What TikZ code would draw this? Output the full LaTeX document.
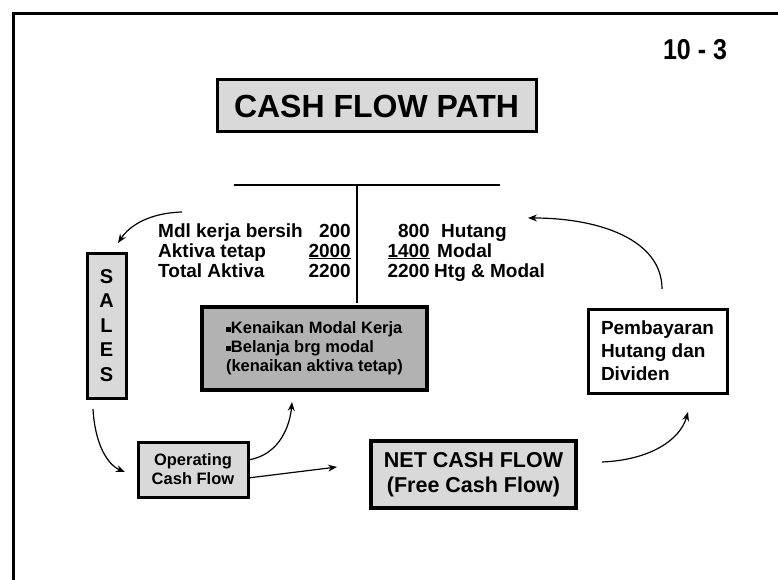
\documentclass[tikz,border=0pt]{standalone}
\usepackage{fontspec}
\setmainfont{Liberation Sans}
\usetikzlibrary{arrows.meta}

\tikzset{
  kotak/.style={draw, line width=3pt, fill=gray!30, inner sep=0pt, font=\bfseries},
  teks/.style={inner sep=0pt, font=\fontsize{19}{22}\selectfont\bfseries},
  panah/.style={->, >={Stealth[length=9pt,width=7pt]}, line width=1.2pt},
}

\begin{document}
\begin{tikzpicture}[x=1pt,y=-1pt]
    \useasboundingbox (0,0) rectangle (778,580);
    % Bingkai
    \draw[line width=3pt] (778,14) -- (13,14) -- (13,580);
    \node[inner sep=0pt, yscale=1.15, font=\fontsize{25}{28}\selectfont\bfseries] (hal) at (695,50) {10 - 3};
    % Judul
    \node[kotak, minimum width=319pt, minimum height=52pt,
          font=\fontsize{32}{36}\selectfont\bfseries] (judul) at (376.5,106) {CASH FLOW PATH};
    % Neraca (T)
    \coordinate (tki) at (234,185);
    \coordinate (tka) at (500,185);
    \coordinate (tat) at (357,185);
    \coordinate (tba) at (357,303);
    \draw[line width=1.2pt] (tki) -- (tka);
    \draw[line width=1.2pt] (tat) -- (tba);
    \node[teks, anchor=base west] (mdl) at (158,237) {Mdl kerja bersih};
    \node[teks, anchor=base west] (akt) at (158,257) {Aktiva tetap};
    \node[teks, anchor=base west] (tot) at (158,277) {Total Aktiva};
    \node[teks, anchor=base east] (n1) at (351,237) {200};
    \node[teks, anchor=base east] (n2) at (351,257) {\underline{2000}};
    \node[teks, anchor=base east] (n3) at (351,277) {2200};
    \node[teks, anchor=base east] (m1) at (430,237) {800};
    \node[teks, anchor=base east] (m2) at (430,257) {\underline{1400}};
    \node[teks, anchor=base east] (m3) at (430,277) {2200};
    \node[teks, anchor=base west] (hut) at (441,237) {Hutang};
    \node[teks, anchor=base west] (mod) at (437,257) {Modal};
    \node[teks, anchor=base west] (htg) at (434,277) {Htg \& Modal};
    % Kotak-kotak
    \node[kotak, minimum width=39pt, minimum height=145pt, align=center,
          font=\fontsize{20}{24.5}\selectfont\bfseries] (sales) at (106.5,325.5) {S\\A\\L\\E\\S};
    \node[kotak, line width=4pt, fill=gray!60, minimum width=225pt, minimum height=83pt,
          align=left, font=\fontsize{16.5}{19}\selectfont\bfseries] (naik) at (314.5,348.5)
          {\rule[0.25ex]{0.3em}{0.3em}Kenaikan Modal Kerja\\
           \rule[0.25ex]{0.3em}{0.3em}Belanja brg modal\\
           (kenaikan aktiva tetap)};
    \node[kotak, minimum width=110pt, minimum height=55pt, align=center,
          font=\fontsize{16.5}{19}\selectfont\bfseries] (ocf) at (193,469.5) {Operating\\Cash Flow};
    \node[kotak, line width=3.5pt, minimum width=205pt, minimum height=67pt, align=center,
          font=\fontsize{21.5}{25}\selectfont\bfseries] (ncf) at (473.5,474.5) {NET CASH FLOW\\(Free Cash Flow)};
    \node[kotak, fill=white, minimum width=139pt, minimum height=84pt, align=left,
          font=\fontsize{19}{23}\selectfont\bfseries] (bayar) at (657.5,351) {Pembayaran\\Hutang dan\\Dividen};
    % Panah
    \coordinate (u1) at (662,289);
    \coordinate (u2) at (528,218);
    \coordinate (k1) at (182,212);
    \coordinate (k2) at (118,243);
    \coordinate (s1) at (93,409);
    \coordinate (s2) at (125,472);
    \coordinate (o1) at (248,460);
    \coordinate (o2) at (292,402);
    \coordinate (o3) at (248,478);
    \coordinate (o4) at (337,467);
    \coordinate (c1) at (602,462);
    \coordinate (c2) at (688,412);
    \draw[panah] (u1) .. controls (662,240) and (600,218) .. (u2);
    \draw[panah] (k1) .. controls (150,213) and (130,225) .. (k2);
    \draw[panah] (s1) .. controls (95,445) and (108,465) .. (s2);
    \draw[panah] (o1) .. controls (280,455) and (290,425) .. (o2);
    \draw[panah] (o3) -- (o4);
    \draw[panah] (c1) .. controls (650,460) and (680,440) .. (c2);
\end{tikzpicture}
\end{document}
